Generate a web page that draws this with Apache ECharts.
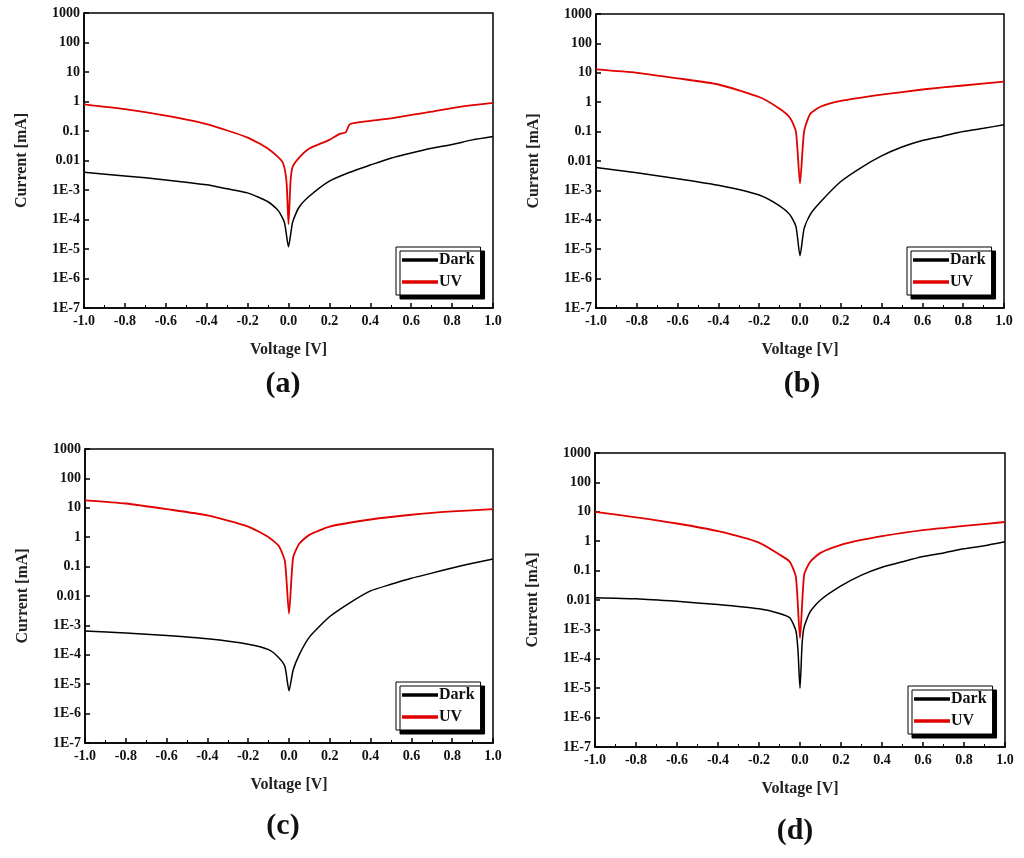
<!DOCTYPE html>
<html><head><meta charset="utf-8">
<script src="https://cdn.jsdelivr.net/npm/echarts@6/dist/echarts.min.js"></script>
<style>html,body{margin:0;padding:0;background:#fff}#c{width:1024px;height:858px}</style>
</head><body><div id="c"></div>
<script>
const voltA = [-1,-0.8,-0.6,-0.4,-0.3,-0.2,-0.1,-0.05,-0.02,0,0.02,0.05,0.1,0.2,0.3,0.4,0.5,0.6,0.7,0.8,0.9,1.0];
const darkA = [4e-3,3e-3,2.2e-3,1.5e-3,1.1e-3,8e-4,4e-4,2e-4,8e-5,1.2e-5,8e-5,2.5e-4,6e-4,2e-3,4e-3,7e-3,1.2e-2,1.8e-2,2.6e-2,3.5e-2,5e-2,6.5e-2];
const voltUVA = [-1,-0.8,-0.6,-0.4,-0.2,-0.1,-0.03,-0.01,0,0.01,0.02,0.05,0.1,0.2,0.25,0.28,0.3,0.4,0.5,0.6,0.7,0.8,0.9,1.0];
const uvA = [0.8,0.55,0.33,0.17,0.06,0.025,0.009,0.002,7e-5,0.002,0.006,0.012,0.025,0.05,0.08,0.09,0.17,0.22,0.27,0.35,0.45,0.6,0.75,0.9];

const voltB = [-1,-0.8,-0.6,-0.4,-0.2,-0.1,-0.05,-0.02,0,0.02,0.05,0.1,0.2,0.3,0.4,0.5,0.6,0.7,0.8,0.9,1.0];
const darkB = [6e-3,4e-3,2.5e-3,1.5e-3,7e-4,3e-4,1.5e-4,6e-5,6e-6,5e-5,1.5e-4,4e-4,2e-3,6e-3,1.5e-2,3e-2,5e-2,7e-2,0.1,0.13,0.17];
const voltUVB = [-1,-0.8,-0.6,-0.4,-0.2,-0.1,-0.05,-0.02,0,0.02,0.05,0.1,0.2,0.4,0.6,0.8,1.0];
const uvB = [13,10,6.5,4,1.5,0.6,0.3,0.1,1.7e-3,0.1,0.4,0.7,1.1,1.8,2.7,3.7,5];

const voltC = [-1,-0.8,-0.6,-0.4,-0.2,-0.1,-0.05,-0.02,0,0.02,0.05,0.1,0.2,0.3,0.4,0.5,0.6,0.7,0.8,0.9,1.0];
const darkC = [6.5e-4,5.5e-4,4.5e-4,3.5e-4,2.3e-4,1.5e-4,8e-5,4e-5,6e-6,3e-5,1e-4,4e-4,2e-3,6e-3,1.5e-2,2.5e-2,4e-2,6e-2,0.09,0.13,0.18];
const voltUVC = [-1,-0.8,-0.6,-0.4,-0.2,-0.1,-0.05,-0.02,0,0.02,0.05,0.1,0.2,0.4,0.6,0.8,1.0];
const uvC = [18,14,9,5.5,2.3,1.0,0.5,0.15,2.5e-3,0.2,0.6,1.2,2.3,4,5.8,7.5,9];

const voltD = [-1,-0.8,-0.6,-0.4,-0.2,-0.1,-0.05,-0.02,-0.01,0,0.01,0.02,0.05,0.1,0.2,0.3,0.4,0.5,0.6,0.7,0.8,0.9,1.0];
const darkD = [0.012,0.011,0.009,0.007,0.005,0.0035,0.0025,9e-4,2e-4,1e-5,3e-4,1.2e-3,4e-3,1e-2,3e-2,7e-2,0.13,0.2,0.3,0.4,0.55,0.7,0.95];
const voltUVD = [-1,-0.8,-0.6,-0.4,-0.2,-0.1,-0.05,-0.02,0,0.02,0.05,0.1,0.2,0.3,0.4,0.6,0.8,1.0];
const uvD = [10,6.5,4,2.2,0.9,0.35,0.2,0.06,5e-4,0.07,0.2,0.4,0.75,1.1,1.5,2.4,3.3,4.5];

const panels = [
  {label:'(a)', grid:{left:84,top:13,width:409,height:295}, dx:voltA, dy:darkA, ux:voltUVA, uy:uvA, lx:278, ly:364},
  {label:'(b)', grid:{left:596,top:14,width:408,height:294}, dx:voltB, dy:darkB, ux:voltUVB, uy:uvB, lx:797, ly:364},
  {label:'(c)', grid:{left:85,top:449,width:408,height:294}, dx:voltC, dy:darkC, ux:voltUVC, uy:uvC, lx:278, ly:806},
  {label:'(d)', grid:{left:595,top:453,width:410,height:294}, dx:voltD, dy:darkD, ux:voltUVD, uy:uvD, lx:790, ly:811}
];
const F = 'Liberation Serif';
const zip = (a,b)=>a.map((v,i)=>[v,b[i]]);
const opt = {animation:false, grid:[], xAxis:[], yAxis:[], series:[], title:[], legend:[]};
panels.forEach((p,i)=>{
  opt.grid.push(Object.assign({show:true,borderColor:'#000',borderWidth:1.5,backgroundColor:'#fff'},p.grid));
  opt.xAxis.push({type:'value',gridIndex:i,min:-1,max:1,interval:0.2,
    name:'Voltage [V]',nameLocation:'middle',nameGap:34,
    nameTextStyle:{fontFamily:F,fontWeight:'bold',fontSize:16,color:'#222'},
    axisLine:{onZero:false,lineStyle:{color:'#000',width:1.5}},
    axisTick:{inside:true,length:5,lineStyle:{color:'#000',width:1.5}},
    minorTick:{show:true,splitNumber:2,length:3,lineStyle:{color:'#000'}},
    splitLine:{show:false},
    axisLabel:{fontFamily:F,fontWeight:'bold',fontSize:14,color:'#111',margin:6,formatter:v=>v.toFixed(1)}});
  opt.yAxis.push({type:'log',logBase:10,gridIndex:i,min:1e-7,max:1000,interval:1,
    name:'Current [mA]',nameLocation:'middle',nameGap:54,
    nameTextStyle:{fontFamily:F,fontWeight:'bold',fontSize:16,color:'#222'},
    axisLine:{onZero:false,lineStyle:{color:'#000',width:1.5}},
    axisTick:{inside:true,length:5,lineStyle:{color:'#000',width:1.5}},
    splitLine:{show:false},
    axisLabel:{fontFamily:F,fontWeight:'bold',fontSize:14,color:'#111',margin:4,
      formatter:v=>{const e=Math.round(Math.log10(v)); return e>=-2? String(Math.pow(10,e).toFixed(Math.max(0,-e))) : '1E'+e;}}});
  opt.series.push({type:'line',name:'Dark',xAxisIndex:i,yAxisIndex:i,data:zip(p.dx,p.dy),showSymbol:false,smooth:0.2,lineStyle:{color:'#000',width:1.5},itemStyle:{color:'#000'}});
  opt.series.push({type:'line',name:'UV',xAxisIndex:i,yAxisIndex:i,data:zip(p.ux,p.uy),showSymbol:false,smooth:0.2,lineStyle:{color:'#e00000',width:1.8},itemStyle:{color:'#e00000'}});
  opt.title.push({text:p.label,left:p.lx,top:p.ly,textAlign:'center',textStyle:{fontFamily:F,fontWeight:'bold',fontSize:30,color:'#111'}});
  opt.legend.push({data:['Dark','UV'],orient:'vertical',
    left:p.grid.left+p.grid.width-97,top:p.grid.top+p.grid.height-61,
    itemWidth:36,itemHeight:6,itemGap:6,padding:[5,6,5,6],
    icon:'path://M0,0L10,0L10,1L0,1Z',
    backgroundColor:'#fff',borderColor:'#000',borderWidth:1,
    shadowColor:'#000',shadowBlur:0,shadowOffsetX:4,shadowOffsetY:4,
    textStyle:{fontFamily:F,fontWeight:'bold',fontSize:16,color:'#111',padding:[0,0,0,-4]}});
});
const ch = echarts.init(document.getElementById('c'));
ch.setOption(opt);
</script></body></html>
